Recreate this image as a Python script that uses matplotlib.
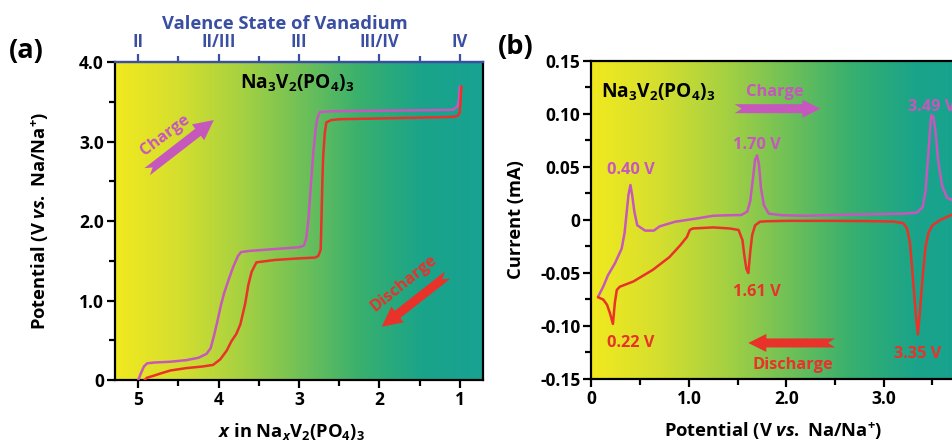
import numpy as np
import matplotlib
matplotlib.use('Agg')
import matplotlib.pyplot as plt
from matplotlib.colors import LinearSegmentedColormap
from matplotlib.patches import Polygon
from matplotlib.transforms import IdentityTransform

plt.rcParams['font.family'] = ['Open Sans', 'DejaVu Sans']
plt.rcParams['font.weight'] = 'bold'
plt.rcParams['axes.labelweight'] = 'bold'
plt.rcParams['mathtext.fontset'] = 'custom'
plt.rcParams['mathtext.rm'] = 'Open Sans:bold'
plt.rcParams['mathtext.bf'] = 'Open Sans:bold'
plt.rcParams['mathtext.it'] = 'Open Sans:italic:bold'
plt.rcParams['mathtext.default'] = 'rm'

MAGENTA = '#c657bd'
RED = '#e8322a'
BLUE = '#3a4ea2'

# galvanostatic profile, x in NaxV2(PO4)3 vs potential
charge_x = [5.00, 4.97, 4.93, 4.89, 4.80, 4.60, 4.40, 4.25, 4.15, 4.10, 4.06, 4.02, 3.97,
            3.93, 3.87, 3.82, 3.76, 3.72, 3.60, 3.40, 3.20, 3.00, 2.94, 2.91, 2.88, 2.86,
            2.84, 2.82, 2.79, 2.77, 2.74, 2.60, 2.20, 1.75, 1.30, 1.08, 1.03, 1.01, 1.00]
charge_v = [0.00, 0.08, 0.17, 0.21, 0.22, 0.23, 0.25, 0.28, 0.33, 0.40, 0.55, 0.72, 0.95,
            1.10, 1.28, 1.42, 1.56, 1.61, 1.625, 1.64, 1.655, 1.67, 1.69, 1.78, 2.05, 2.35,
            2.62, 2.89, 3.18, 3.30, 3.37, 3.38, 3.385, 3.39, 3.395, 3.40, 3.44, 3.52, 3.69]
discharge_x = [0.98, 0.99, 1.00, 1.03, 1.08, 1.50, 2.00, 2.50, 2.60, 2.66, 2.68, 2.70,
               2.71, 2.72, 2.73, 2.76, 2.80, 3.00, 3.30, 3.53, 3.56, 3.59, 3.63, 3.67,
               3.73, 3.78, 3.84, 3.90, 3.98, 4.07, 4.20, 4.40, 4.60, 4.73, 4.82, 4.89, 4.92]
discharge_v = [3.69, 3.50, 3.36, 3.32, 3.31, 3.30, 3.29, 3.28, 3.27, 3.24, 3.10, 2.80,
               2.48, 2.05, 1.64, 1.56, 1.54, 1.53, 1.51, 1.48, 1.42, 1.36, 1.20, 0.96,
               0.70, 0.58, 0.49, 0.37, 0.26, 0.19, 0.17, 0.15, 0.12, 0.08, 0.05, 0.03, 0.00]

# cyclic voltammogram
cv_charge_v = [0.07, 0.12, 0.17, 0.24, 0.31, 0.34, 0.36, 0.38, 0.40, 0.42, 0.44, 0.47,
               0.55, 0.64, 0.70, 0.86, 1.05, 1.25, 1.42, 1.54, 1.60, 1.63, 1.66, 1.68,
               1.70, 1.72, 1.74, 1.77, 1.82, 1.95, 2.20, 2.60, 2.90, 3.20, 3.34, 3.40,
               3.43, 3.46, 3.48, 3.49, 3.51, 3.53, 3.56, 3.60, 3.65, 3.72, 3.80]
cv_charge_i = [-0.072, -0.063, -0.052, -0.041, -0.027, -0.012, 0.006, 0.024, 0.033, 0.022,
               0.008, -0.005, -0.010, -0.010, -0.006, -0.0016, 0.001, 0.004, 0.0045, 0.0047,
               0.008, 0.018, 0.041, 0.057, 0.061, 0.052, 0.030, 0.014, 0.006, 0.0045,
               0.004, 0.005, 0.0055, 0.006, 0.007, 0.012, 0.028, 0.065, 0.092, 0.099,
               0.097, 0.085, 0.055, 0.032, 0.021, 0.018, 0.017]
cv_dis_v = [3.80, 3.70, 3.58, 3.50, 3.46, 3.43, 3.40, 3.37, 3.35, 3.33, 3.30, 3.27, 3.24,
            3.20, 3.10, 2.80, 2.40, 2.00, 1.80, 1.73, 1.68, 1.65, 1.63, 1.61, 1.59, 1.57,
            1.55, 1.51, 1.42, 1.25, 1.04, 1.01, 0.98, 0.91, 0.80, 0.63, 0.43, 0.29, 0.26,
            0.24, 0.22, 0.19, 0.16, 0.12, 0.07]
cv_dis_i = [0.008, 0.005, 0.0, -0.005, -0.012, -0.025, -0.053, -0.088, -0.108, -0.090,
            -0.055, -0.022, -0.008, -0.003, -0.0015, -0.001, -0.0008, -0.0008, -0.0012,
            -0.0016, -0.005, -0.014, -0.030, -0.050, -0.046, -0.034, -0.019, -0.0094,
            -0.008, -0.007, -0.008, -0.0094, -0.016, -0.024, -0.035, -0.047, -0.058,
            -0.063, -0.066, -0.078, -0.098, -0.088, -0.080, -0.075, -0.073]

x_ticks_a = [5, 4, 3, 2, 1]
x_labels_a = ['5', '4', '3', '2', '1']
y_ticks_a = [0, 1, 2, 3, 4]
y_labels_a = ['0', '1.0', '2.0', '3.0', '4.0']
valence_ticks = [5, 4, 3, 2, 1]
valence_labels = ['II', 'II/III', 'III', 'III/IV', 'IV']
x_ticks_b = [0, 1, 2, 3]
x_labels_b = ['0', '1.0', '2.0', '3.0']
y_ticks_b = [-0.15, -0.10, -0.05, 0, 0.05, 0.10, 0.15]
y_labels_b = ['-0.15', '-0.10', '-0.05', '0', '0.05', '0.10', '0.15']

bg = LinearSegmentedColormap.from_list(
    'bg', ['#f1e91f', '#d6df2e', '#a9d240', '#72c157', '#38b06e', '#1aa48a', '#17a293'])

fig = plt.figure(figsize=(9.52, 4.41), dpi=100)
ax1 = fig.add_axes([0.1208, 0.1383, 0.3866, 0.7211])
ax2 = fig.add_axes([0.6213, 0.1406, 0.4093, 0.7211])

TICK_FS = 12.5
LABEL_FS = 13.2
NOTE_FS = 11.8


def style_axes(ax):
    for s in ax.spines.values():
        s.set_linewidth(1.6)
    ax.tick_params(which='major', direction='out', length=6, width=1.6,
                   labelsize=TICK_FS, pad=2)
    ax.tick_params(which='minor', direction='out', length=4, width=1.6)


def gradient(ax, xlim, ylim):
    ramp = np.linspace(0, 1, 256).reshape(1, -1)
    ax.imshow(ramp, cmap=bg, aspect='auto', extent=[xlim[0], xlim[1], ylim[0], ylim[1]],
              zorder=0, interpolation='bicubic')
    ax.set_xlim(xlim)
    ax.set_ylim(ylim)


def block_arrow(ax, start, end, color, shaft=9, head_w=20, head_l=20, notch=7):
    p0 = ax.transData.transform(start)
    p1 = ax.transData.transform(end)
    d = p1 - p0
    u = d / np.hypot(*d)
    n = np.array([-u[1], u[0]])
    hb = p1 - head_l * u
    pts = [p0 + shaft / 2 * n, hb + shaft / 2 * n, hb + head_w / 2 * n, p1,
           hb - head_w / 2 * n, hb - shaft / 2 * n, p0 - shaft / 2 * n, p0 + notch * u]
    fig.add_artist(Polygon(pts, closed=True, transform=IdentityTransform(),
                           facecolor=color, edgecolor='none', zorder=5))


# (a) charge/discharge profile
gradient(ax1, (5.29, 0.71), (0, 4))
style_axes(ax1)
ax1.plot(charge_x, charge_v, color=MAGENTA, lw=1.8, zorder=3)
ax1.plot(discharge_x, discharge_v, color=RED, lw=1.8, zorder=3)
ax1.set_xticks(x_ticks_a)
ax1.set_xticklabels(x_labels_a)
ax1.set_xticks([4.5, 3.5, 2.5, 1.5], minor=True)
ax1.set_yticks(y_ticks_a)
ax1.set_yticklabels(y_labels_a)
ax1.set_yticks([0.5, 1.5, 2.5, 3.5], minor=True)
ax1.set_xlabel(r'$\mathit{x}$ in Na$_{\mathit{x}}$V$_2$(PO$_4$)$_3$', fontsize=LABEL_FS)
ax1.set_ylabel(r'Potential (V $\mathit{vs.}$ Na/Na$^{+}$)', fontsize=LABEL_FS)
ax1.xaxis.set_label_coords(0.48, -0.128)
ax1.yaxis.set_label_coords(-0.175, 0.5)
ax1.spines['top'].set_color(BLUE)

top = ax1.secondary_xaxis('top')
top.set_xticks(valence_ticks)
top.set_xticklabels(valence_labels)
top.set_xticks([4.5, 3.5, 2.5, 1.5], minor=True)
top.spines['top'].set_color(BLUE)
top.spines['top'].set_linewidth(1.6)
top.tick_params(which='major', direction='out', length=6, width=1.6, colors=BLUE,
                labelsize=TICK_FS - 0.5, pad=2)
top.tick_params(which='minor', direction='out', length=4, width=1.6, colors=BLUE)
top.set_xlabel('Valence State of Vanadium', color=BLUE, fontsize=13.2, labelpad=3,
               x=0.462)

ax1.text(3.03, 3.73, r'Na$_3$V$_2$(PO$_4$)$_3$', fontsize=13.8, ha='center', va='center',
         zorder=4)
block_arrow(ax1, (4.89, 2.62), (4.06, 3.27), MAGENTA)
ax1.text(4.66, 3.08, 'Charge', color=MAGENTA, fontsize=NOTE_FS, rotation=37,
         ha='center', va='center', zorder=4)
block_arrow(ax1, (1.15, 1.32), (1.97, 0.67), RED)
ax1.text(1.70, 1.22, 'Discharge', color=RED, fontsize=NOTE_FS, rotation=39,
         ha='center', va='center', zorder=4)

# (b) cyclic voltammetry
gradient(ax2, (0, 4.0), (-0.15, 0.15))
style_axes(ax2)
ax2.plot(cv_charge_v, cv_charge_i, color=MAGENTA, lw=1.8, zorder=3)
ax2.plot(cv_dis_v, cv_dis_i, color=RED, lw=1.8, zorder=3)
ax2.set_xticks(x_ticks_b)
ax2.set_xticklabels(x_labels_b)
ax2.set_xticks([0.5, 1.5, 2.5, 3.5], minor=True)
ax2.set_yticks(y_ticks_b)
ax2.set_yticklabels(y_labels_b)
ax2.set_yticks([-0.125, -0.075, -0.025, 0.025, 0.075, 0.125], minor=True)
ax2.set_xlabel(r'Potential (V $\mathit{vs.}$ Na/Na$^{+}$)', fontsize=LABEL_FS)
ax2.set_ylabel('Current (mA)', fontsize=LABEL_FS)
ax2.xaxis.set_label_coords(0.467, -0.13)
ax2.yaxis.set_label_coords(-0.17, 0.5)

ax2.text(0.10, 0.120, r'Na$_3$V$_2$(PO$_4$)$_3$', fontsize=13.8, ha='left', va='center',
         zorder=4)
peak_labels = [(0.40, 0.047, '0.40 V', MAGENTA), (1.70, 0.071, '1.70 V', MAGENTA),
               (3.49, 0.107, '3.49 V', MAGENTA), (0.40, -0.116, '0.22 V', RED),
               (1.70, -0.068, '1.61 V', RED), (3.35, -0.126, '3.35 V', RED)]
for px, py, txt, c in peak_labels:
    ax2.text(px, py, txt, color=c, fontsize=NOTE_FS, ha='center', va='center', zorder=4)
block_arrow(ax2, (1.47, 0.105), (2.35, 0.105), MAGENTA, shaft=9, head_w=18, head_l=18)
ax2.text(1.88, 0.121, 'Charge', color=MAGENTA, fontsize=NOTE_FS, ha='center',
         va='center', zorder=4)
block_arrow(ax2, (2.50, -0.116), (1.61, -0.116), RED, shaft=9, head_w=18, head_l=18)
ax2.text(2.07, -0.137, 'Discharge', color=RED, fontsize=NOTE_FS, ha='center',
         va='center', zorder=4)

fig.text(0.028, 0.885, '(a)', fontsize=19.5, ha='center', va='center')
fig.text(0.542, 0.893, '(b)', fontsize=19.5, ha='center', va='center')

fig.savefig('out.png', dpi=100)
